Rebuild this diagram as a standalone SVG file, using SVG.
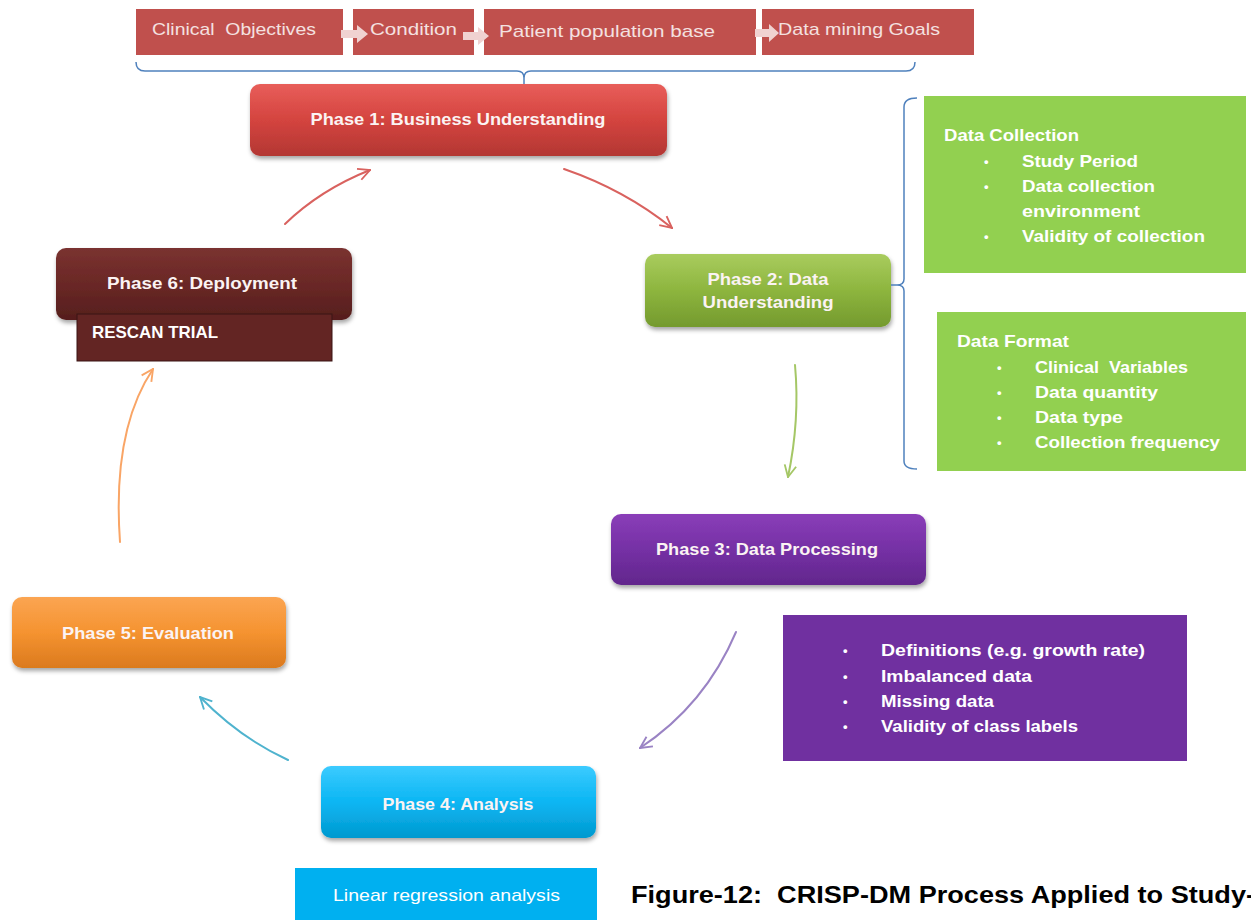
<svg xmlns="http://www.w3.org/2000/svg" width="1251" height="920" viewBox="0 0 1251 920">
  <defs>
    <style>
      .t { font-family: "Liberation Sans", Arial, sans-serif; fill: #FBF3F3; white-space: pre; }
      .b { font-weight: bold; }
      .ph { font-size: 17px; font-weight: bold; text-anchor: middle; }
      .top { font-size: 17px; fill: #F4E1E0; }
      .li { font-size: 17px; font-weight: bold; fill: #FFFFFF; }
      .bul { font-size: 13px; font-weight: bold; fill: #FFFFFF; }
      .brace { fill: none; stroke: #4F81BD; stroke-width: 1.5; }
      .cv { fill: none; stroke-width: 2; stroke-linecap: round; }
      .tiparrow { fill: #F0D2D1; }
    </style>
    <filter id="shadow" x="-10%" y="-20%" width="120%" height="160%">
      <feDropShadow dx="1" dy="3" stdDeviation="2" flood-color="#000" flood-opacity="0.35"/>
    </filter>
    <linearGradient id="gRed" x1="0" y1="0" x2="0" y2="1">
      <stop offset="0" stop-color="#E85E5A"/>
      <stop offset="0.5" stop-color="#D4443F"/>
      <stop offset="1" stop-color="#B33733"/>
    </linearGradient>
    <linearGradient id="gGreen" x1="0" y1="0" x2="0" y2="1">
      <stop offset="0" stop-color="#A9CC5E"/>
      <stop offset="0.5" stop-color="#8DB53E"/>
      <stop offset="1" stop-color="#749A2E"/>
    </linearGradient>
    <linearGradient id="gPurple" x1="0" y1="0" x2="0" y2="1">
      <stop offset="0" stop-color="#8A3EB8"/>
      <stop offset="0.5" stop-color="#7530A5"/>
      <stop offset="1" stop-color="#62278C"/>
    </linearGradient>
    <linearGradient id="gCyan" x1="0" y1="0" x2="0" y2="1">
      <stop offset="0" stop-color="#3CCBFF"/>
      <stop offset="0.5" stop-color="#0BB6F3"/>
      <stop offset="1" stop-color="#0399CF"/>
    </linearGradient>
    <linearGradient id="gOrange" x1="0" y1="0" x2="0" y2="1">
      <stop offset="0" stop-color="#FBA552"/>
      <stop offset="0.5" stop-color="#F59330"/>
      <stop offset="1" stop-color="#DB7A1E"/>
    </linearGradient>
    <linearGradient id="gMaroon" x1="0" y1="0" x2="0" y2="1">
      <stop offset="0" stop-color="#7A3230"/>
      <stop offset="0.5" stop-color="#6A2826"/>
      <stop offset="1" stop-color="#551E1D"/>
    </linearGradient>
    <marker id="mRed" viewBox="0 0 12 12" refX="11" refY="6" markerWidth="14" markerHeight="14" markerUnits="userSpaceOnUse" orient="auto">
      <path d="M1,1 L11,6 L1,11" fill="none" stroke="#D9625F" stroke-width="1.6"/>
    </marker>
    <marker id="mGreen" viewBox="0 0 12 12" refX="11" refY="6" markerWidth="14" markerHeight="14" markerUnits="userSpaceOnUse" orient="auto">
      <path d="M1,1 L11,6 L1,11" fill="none" stroke="#A5C766" stroke-width="1.6"/>
    </marker>
    <marker id="mPurple" viewBox="0 0 12 12" refX="11" refY="6" markerWidth="14" markerHeight="14" markerUnits="userSpaceOnUse" orient="auto">
      <path d="M1,1 L11,6 L1,11" fill="none" stroke="#9A83C4" stroke-width="1.6"/>
    </marker>
    <marker id="mCyan" viewBox="0 0 12 12" refX="11" refY="6" markerWidth="14" markerHeight="14" markerUnits="userSpaceOnUse" orient="auto">
      <path d="M1,1 L11,6 L1,11" fill="none" stroke="#4FB3CE" stroke-width="1.6"/>
    </marker>
    <marker id="mOrange" viewBox="0 0 12 12" refX="11" refY="6" markerWidth="14" markerHeight="14" markerUnits="userSpaceOnUse" orient="auto">
      <path d="M1,1 L11,6 L1,11" fill="none" stroke="#F9A566" stroke-width="1.6"/>
    </marker>
  </defs>

  <rect width="1251" height="920" fill="#FFFFFF"/>

  <!-- Business objectives strip -->
  <g id="objectives">
    <rect x="136" y="9" width="207" height="46" fill="#C0504D"/>
    <rect x="353" y="9" width="121" height="46" fill="#C0504D"/>
    <rect x="484" y="9" width="272" height="46" fill="#C0504D"/>
    <rect x="762" y="9" width="212" height="46" fill="#C0504D"/>
    <path class="tiparrow" d="M341,30 L357,30 L357,25 L368,34 L357,43 L357,38 L341,38 Z"/>
    <path class="tiparrow" d="M463,32 L478,32 L478,27 L489,36 L478,45 L478,40 L463,40 Z"/>
    <path class="tiparrow" d="M755,29 L769,29 L769,24 L779,33 L769,42 L769,37 L755,37 Z"/>
    <text class="t top" x="152" y="35" textLength="164" lengthAdjust="spacingAndGlyphs">Clinical  Objectives</text>
    <text class="t top" x="370" y="35" textLength="87" lengthAdjust="spacingAndGlyphs">Condition</text>
    <text class="t top" x="499" y="37" textLength="216" lengthAdjust="spacingAndGlyphs">Patient population base</text>
    <text class="t top" x="778" y="35" textLength="162" lengthAdjust="spacingAndGlyphs">Data mining Goals</text>
  </g>

  <!-- Phase 1 -->
  <g id="phase1">
    <rect x="250" y="84" width="417" height="72" rx="10" fill="url(#gRed)" filter="url(#shadow)"/>
    <text class="t ph" x="458" y="125" textLength="295" lengthAdjust="spacingAndGlyphs">Phase 1: Business Understanding</text>
  </g>

  <!-- Phase 2 -->
  <g id="phase2">
    <rect x="645" y="254" width="246" height="73" rx="10" fill="url(#gGreen)" filter="url(#shadow)"/>
    <text class="t ph" x="768" y="285" textLength="121" lengthAdjust="spacingAndGlyphs">Phase 2: Data</text>
    <text class="t ph" x="768" y="308" textLength="131" lengthAdjust="spacingAndGlyphs">Understanding</text>
  </g>

  <!-- Data collection details -->
  <g id="data-collection">
    <rect x="924" y="96" width="322" height="177" fill="#92D050"/>
    <text class="t li" x="944" y="141" textLength="135" lengthAdjust="spacingAndGlyphs">Data Collection</text>
    <text class="t bul" x="984" y="166">•</text>
    <text class="t bul" x="984" y="191">•</text>
    <text class="t bul" x="984" y="241">•</text>
    <text class="t li" x="1022" y="167" textLength="116" lengthAdjust="spacingAndGlyphs">Study Period</text>
    <text class="t li" x="1022" y="192" textLength="133" lengthAdjust="spacingAndGlyphs">Data collection</text>
    <text class="t li" x="1022" y="217" textLength="118" lengthAdjust="spacingAndGlyphs">environment</text>
    <text class="t li" x="1022" y="242" textLength="183" lengthAdjust="spacingAndGlyphs">Validity of collection</text>
  </g>

  <!-- Data format details -->
  <g id="data-format">
    <rect x="937" y="312" width="309" height="159" fill="#92D050"/>
    <text class="t li" x="957" y="347" textLength="112" lengthAdjust="spacingAndGlyphs">Data Format</text>
    <text class="t bul" x="997" y="372">•</text>
    <text class="t bul" x="997" y="397">•</text>
    <text class="t bul" x="997" y="422">•</text>
    <text class="t bul" x="997" y="447">•</text>
    <text class="t li" x="1035" y="373" textLength="153" lengthAdjust="spacingAndGlyphs">Clinical  Variables</text>
    <text class="t li" x="1035" y="398" textLength="123" lengthAdjust="spacingAndGlyphs">Data quantity</text>
    <text class="t li" x="1035" y="423" textLength="88" lengthAdjust="spacingAndGlyphs">Data type</text>
    <text class="t li" x="1035" y="448" textLength="185" lengthAdjust="spacingAndGlyphs">Collection frequency</text>
  </g>

  <!-- Phase 3 -->
  <g id="phase3">
    <rect x="611" y="514" width="315" height="71" rx="10" fill="url(#gPurple)" filter="url(#shadow)"/>
    <text class="t ph" x="767" y="555" textLength="222" lengthAdjust="spacingAndGlyphs">Phase 3: Data Processing</text>
  </g>

  <!-- Data processing details -->
  <g id="processing-details">
    <rect x="783" y="615" width="404" height="146" fill="#7030A0"/>
    <text class="t bul" x="843" y="655">•</text>
    <text class="t bul" x="843" y="681">•</text>
    <text class="t bul" x="843" y="706">•</text>
    <text class="t bul" x="843" y="731">•</text>
    <text class="t li" x="881" y="656" textLength="264" lengthAdjust="spacingAndGlyphs">Definitions (e.g. growth rate)</text>
    <text class="t li" x="881" y="682" textLength="151" lengthAdjust="spacingAndGlyphs">Imbalanced data</text>
    <text class="t li" x="881" y="707" textLength="113" lengthAdjust="spacingAndGlyphs">Missing data</text>
    <text class="t li" x="881" y="732" textLength="197" lengthAdjust="spacingAndGlyphs">Validity of class labels</text>
  </g>

  <!-- Phase 4 -->
  <g id="phase4">
    <rect x="321" y="766" width="275" height="72" rx="10" fill="url(#gCyan)" filter="url(#shadow)"/>
    <text class="t ph" x="458" y="810" textLength="151" lengthAdjust="spacingAndGlyphs">Phase 4: Analysis</text>
  </g>

  <g id="analysis-method">
    <rect x="295" y="868" width="302" height="52" fill="#00B0F0"/>
    <text class="t" x="333" y="901" font-size="17" textLength="227" lengthAdjust="spacingAndGlyphs" style="fill:#FFFFFF">Linear regression analysis</text>
  </g>

  <!-- Phase 5 -->
  <g id="phase5">
    <rect x="12" y="597" width="274" height="71" rx="10" fill="url(#gOrange)" filter="url(#shadow)"/>
    <text class="t ph" x="148" y="639" textLength="172" lengthAdjust="spacingAndGlyphs">Phase 5: Evaluation</text>
  </g>

  <!-- Phase 6 -->
  <g id="phase6">
    <rect x="56" y="248" width="296" height="72" rx="10" fill="url(#gMaroon)" filter="url(#shadow)"/>
    <text class="t ph" x="202" y="289" textLength="190" lengthAdjust="spacingAndGlyphs">Phase 6: Deployment</text>
  </g>

  <g id="deployment-detail">
    <rect x="77" y="314" width="255" height="47" fill="#632523" stroke="#3A1514" stroke-width="1"/>
    <text class="t li" x="92" y="338" textLength="126" lengthAdjust="spacingAndGlyphs">RESCAN TRIAL</text>
  </g>

  <!-- Caption -->
  <text class="t" x="631" y="903" font-size="24" font-weight="bold" style="fill:#000000" textLength="624" lengthAdjust="spacingAndGlyphs">Figure-12:  CRISP-DM Process Applied to Study-</text>

  <!-- Connectors -->
  <g id="connectors">
    <path class="brace" d="M136,62 Q136,71 145,71 L517,71 Q524,71 524,78 L524,84 M524,78 Q524,71 531,71 L906,71 Q915,71 915,62"/>
    <path class="brace" d="M917,98 Q904,98 904,107 L904,279 Q904,285 897,285 L891,285 M897,285 Q904,285 904,291 L904,461 Q904,469 917,469"/>
    <path class="cv" stroke="#D9625F" d="M285,224 Q320,190 370,170" marker-end="url(#mRed)"/>
    <path class="cv" stroke="#D9625F" d="M564,169 Q625,190 672,228" marker-end="url(#mRed)"/>
    <path class="cv" stroke="#A5C766" d="M795,365 Q800,420 788,477" marker-end="url(#mGreen)"/>
    <path class="cv" stroke="#9A83C4" d="M736,632 Q705,705 640,748" marker-end="url(#mPurple)"/>
    <path class="cv" stroke="#4FB3CE" d="M288,760 Q240,738 200,697" marker-end="url(#mCyan)"/>
    <path class="cv" stroke="#F9A566" d="M120,542 Q112,430 153,369" marker-end="url(#mOrange)"/>
  </g>
</svg>
